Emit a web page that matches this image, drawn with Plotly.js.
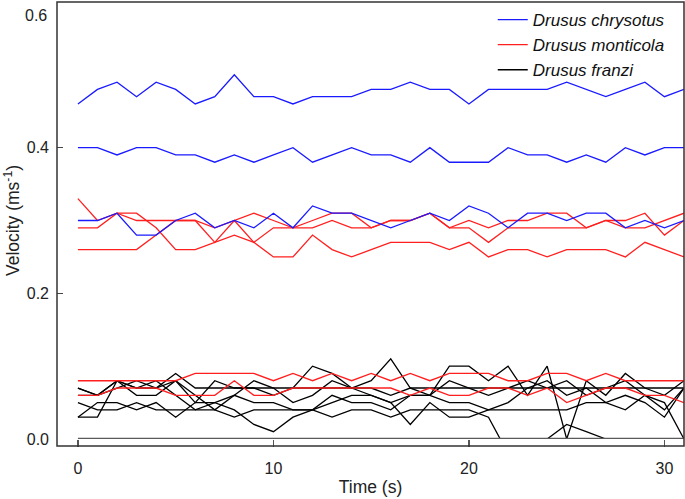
<!DOCTYPE html>
<html>
<head>
<meta charset="utf-8">
<script src="https://cdn.plot.ly/plotly-3.0.1.min.js"></script>
<style>html,body{margin:0;padding:0;background:#fff;}#chart{width:685px;height:499px;}</style>
</head>
<body>
<div id="chart"></div>
<script>
// ---- data ----
const time = [0,1,2,3,4,5,6,7,8,9,10,11,12,13,14,15,16,17,18,19,20,21,22,23,24,25,26,27,28,29,30,31];

const chrysotus1 = [0.46,0.48,0.49,0.47,0.49,0.48,0.46,0.47,0.50,0.47,0.47,0.46,0.47,0.47,0.47,0.48,0.48,0.49,0.48,0.48,0.46,0.48,0.48,0.48,0.48,0.49,0.48,0.47,0.48,0.49,0.47,0.48];
const chrysotus2 = [0.40,0.40,0.39,0.40,0.40,0.39,0.39,0.38,0.39,0.38,0.39,0.40,0.38,0.39,0.40,0.39,0.39,0.38,0.40,0.38,0.38,0.38,0.40,0.39,0.39,0.38,0.39,0.38,0.40,0.39,0.40,0.40];
const chrysotus3 = [0.30,0.30,0.31,0.28,0.28,0.30,0.31,0.29,0.30,0.29,0.31,0.29,0.32,0.31,0.31,0.30,0.29,0.30,0.31,0.30,0.32,0.31,0.29,0.31,0.31,0.30,0.31,0.31,0.29,0.30,0.29,0.30];

const monticola1 = [0.33,0.30,0.31,0.31,0.29,0.26,0.26,0.27,0.28,0.27,0.25,0.25,0.28,0.26,0.25,0.26,0.27,0.27,0.27,0.26,0.27,0.25,0.26,0.26,0.25,0.26,0.26,0.26,0.25,0.27,0.26,0.25];
const monticola2 = [0.29,0.29,0.31,0.30,0.30,0.30,0.30,0.29,0.30,0.31,0.30,0.29,0.30,0.31,0.31,0.29,0.30,0.30,0.31,0.29,0.30,0.29,0.30,0.30,0.31,0.31,0.29,0.30,0.30,0.31,0.28,0.30];
const monticola3 = [0.26,0.26,0.26,0.26,0.28,0.30,0.30,0.27,0.30,0.27,0.29,0.29,0.29,0.30,0.29,0.29,0.30,0.30,0.31,0.29,0.29,0.27,0.29,0.29,0.29,0.29,0.29,0.30,0.29,0.29,0.30,0.31];
const monticola4 = [0.08,0.08,0.08,0.08,0.08,0.08,0.09,0.09,0.09,0.09,0.08,0.09,0.08,0.09,0.08,0.09,0.08,0.09,0.08,0.09,0.09,0.09,0.08,0.08,0.09,0.09,0.08,0.09,0.08,0.08,0.08,0.08];
const monticola5 = [0.06,0.06,0.07,0.07,0.07,0.06,0.06,0.06,0.08,0.06,0.06,0.07,0.07,0.07,0.07,0.07,0.07,0.06,0.07,0.06,0.06,0.07,0.07,0.06,0.07,0.05,0.06,0.07,0.07,0.06,0.06,0.05];

const franzi1 = [0.07,0.06,0.08,0.07,0.07,0.09,0.07,0.07,0.07,0.07,0.07,0.07,0.07,0.07,0.07,0.08,0.11,0.07,0.07,0.07,0.07,0.07,0.07,0.07,0.07,0.07,0.07,0.07,0.07,0.07,0.07,0.07];
const franzi2 = [0.06,0.06,0.08,0.06,0.06,0.08,0.05,0.08,0.07,0.07,0.06,0.07,0.10,0.09,0.07,0.06,0.05,0.06,0.06,0.10,0.10,0.08,0.10,0.06,0.10,0.00,0.08,0.06,0.09,0.07,0.06,0.08];
const franzi3 = [0.03,0.03,0.08,0.07,0.08,0.06,0.04,0.05,0.04,0.02,0.01,0.03,0.04,0.05,0.06,0.06,0.05,0.02,0.05,0.03,0.03,0.04,0.05,0.07,0.08,0.06,0.07,0.05,0.06,0.05,0.03,0.07];
const franzi4 = [0.03,0.05,0.05,0.04,0.05,0.03,0.05,0.05,0.06,0.05,0.05,0.04,0.04,0.06,0.05,0.05,0.04,0.06,0.06,0.05,0.05,0.04,0.04,0.04,0.04,0.04,0.05,0.05,0.04,0.06,0.05,0.00];
const franzi5 = [0.07,0.06,0.07,0.08,0.07,0.08,0.06,0.04,0.06,0.08,0.07,0.05,0.06,0.08,0.07,0.07,0.06,0.07,0.06,0.08,0.07,0.06,0.07,0.08,0.07,0.08,0.06,0.07,0.08,0.06,0.04,0.07];
const franzi6 = [0.05,0.04,0.04,0.05,0.04,0.04,0.04,0.04,0.03,0.04,0.04,0.04,0.04,0.03,0.04,0.04,0.03,0.04,0.04,0.04,0.04,0.03,-0.02,-0.02,0.00,0.02,0.01,0.00,-0.02,-0.03,-0.02,-0.03];

const yTicks = [0, 0.2, 0.4];
const yTickText = ['0.0', '0.2', '0.4'];
const yTopLabel = '0.6';
const xTicks = [0, 10, 20, 30];

const speciesNames = ['Drusus chrysotus', 'Drusus monticola', 'Drusus franzi'];
const speciesColors = ['#1a1aff', '#ff1f1f', '#000000'];

// ---- traces ----
const groups = [
  {name: speciesNames[2], color: speciesColors[2], rank: 3, series: [franzi1, franzi2, franzi3, franzi4, franzi5, franzi6]},
  {name: speciesNames[1], color: speciesColors[1], rank: 2, series: [monticola1, monticola2, monticola3, monticola4, monticola5]},
  {name: speciesNames[0], color: speciesColors[0], rank: 1, series: [chrysotus1, chrysotus2, chrysotus3]}
];
const traces = [];
groups.forEach(g => {
  g.series.forEach((s, i) => {
    traces.push({
      x: time, y: s, type: 'scatter', mode: 'lines',
      name: '<i>' + g.name + '</i>',
      legendgroup: g.name, showlegend: i === 0, legendrank: g.rank,
      line: {color: g.color, width: 1.3}
    });
  });
});

const W = 685, H = 499;
const mL = 57, mR = 1, mT = 2, mB = 60;
const plotH = H - mT - mB;
const frameBottom = -7 / plotH;
const FONT = 'Liberation Sans, Arial, sans-serif';

const layout = {
  width: W, height: H,
  margin: {l: mL, r: mR, t: mT, b: mB, pad: 0},
  paper_bgcolor: '#fff', plot_bgcolor: '#fff',
  font: {family: FONT, size: 16, color: '#222'},
  showlegend: true,
  legend: {
    x: 0.695, xanchor: 'left', y: 1.0, yanchor: 'top',
    bgcolor: 'rgba(0,0,0,0)', borderwidth: 0,
    font: {family: FONT, size: 17, color: '#111'},
    tracegroupgap: 0, itemwidth: 30
  },
  xaxis: {
    range: [-1.07, 31.0], showgrid: false, zeroline: false, showline: false,
    tickvals: xTicks, ticks: 'outside', ticklen: 7, tickwidth: 1.5, tickcolor: '#555',
    ticklabelstandoff: 8,
    tickfont: {family: FONT, size: 16, color: '#222'},
    title: {text: 'Time (s)', font: {family: FONT, size: 17.5, color: '#222'}, standoff: 4}
  },
  yaxis: {
    range: [0, 0.6], showgrid: false, zeroline: false, showline: false,
    tickvals: yTicks, ticktext: yTickText, ticks: 'inside', ticklen: 6, tickwidth: 1.5, tickcolor: '#444',
    ticklabelstandoff: 7,
    tickfont: {family: FONT, size: 16, color: '#222'},
    title: {text: 'Velocity (ms<sup>-1</sup>)', font: {family: FONT, size: 17.5, color: '#222'}, standoff: 2}
  },
  shapes: [
    {type: 'line', xref: 'x', yref: 'y', x0: time[0], x1: time[time.length - 1], y0: 0, y1: 0,
     line: {color: '#5a5a5a', width: 2.5}, layer: 'above'},
    {type: 'rect', xref: 'paper', yref: 'paper', x0: 0, x1: 1, y0: frameBottom, y1: 1,
     line: {color: '#333', width: 1.5}, fillcolor: 'rgba(0,0,0,0)', layer: 'above'}
  ],
  annotations: [
    {text: yTopLabel, xref: 'paper', yref: 'paper', x: -0.012, y: 1 - 13 / plotH,
     xanchor: 'right', yanchor: 'middle', showarrow: false,
     font: {family: FONT, size: 16, color: '#222'}}
  ]
};

Plotly.newPlot('chart', traces, layout, {displayModeBar: false, staticPlot: true});
</script>
</body>
</html>
